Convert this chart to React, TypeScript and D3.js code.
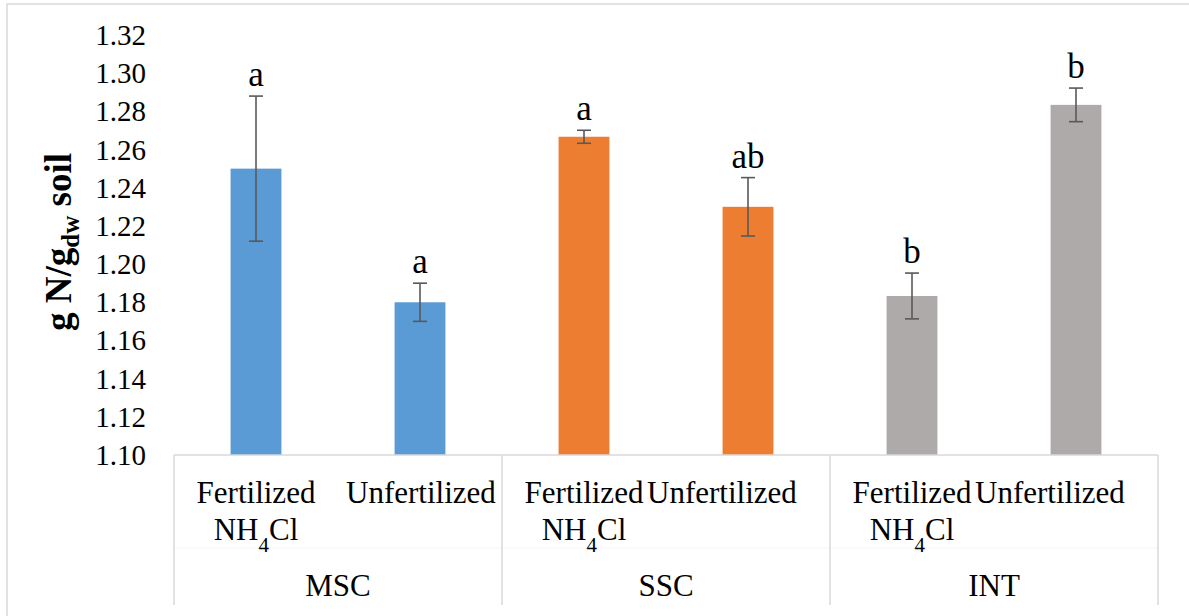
import React from "react";
import * as d3 from "d3";

// Soil nitrogen content by site and fertilization treatment
const sites = ["MSC", "SSC", "INT"];
const treatments = ["Fertilized", "Unfertilized"];
const means = [1.25, 1.18, 1.2667, 1.23, 1.1833, 1.2834];
const errors = [0.038, 0.01, 0.0034, 0.0153, 0.012, 0.0088];
const letters = ["a", "a", "a", "ab", "b", "b"];
const siteColors = ["#5B9BD5", "#ED7D31", "#AEAAAA"];
const yTicks = [1.1, 1.12, 1.14, 1.16, 1.18, 1.2, 1.22, 1.24, 1.26, 1.28, 1.3, 1.32];

const W = 1189;
const H = 616;
const plot = { left: 174, right: 1158, top: 35, bottom: 455 };
const serif = "'Liberation Serif', 'Times New Roman', serif";

export default function App() {
  const y = d3.scaleLinear().domain([1.1, 1.32]).range([plot.bottom, plot.top]);
  const keys = d3.range(means.length);
  const x = d3
    .scaleBand<number>()
    .domain(keys)
    .range([plot.left, plot.right])
    .paddingInner(0.69)
    .paddingOuter(0.345);
  const cat = d3.scaleBand<number>().domain(keys).range([plot.left, plot.right]);
  const group = d3.scaleBand<number>().domain(d3.range(sites.length)).range([plot.left, plot.right]);

  const axisGray = "#D9D9D9";
  const errColor = "#595959";
  const capHalf = 7;
  const labelFont = 31;
  const fertWidth = 122; // rendered width of the "Fertilized" line at labelFont

  return (
    <svg
      width={W}
      height={H}
      style={{ position: "absolute", left: 0, top: 0, background: "#fff", fontFamily: serif }}
    >
      <rect x={7} y={4} width={W} height={H} fill="#fff" stroke={axisGray} strokeWidth={1.5} />

      {/* y tick labels */}
      {yTicks.map((t) => (
        <text
          key={t}
          x={146}
          y={y(t)}
          textAnchor="end"
          dominantBaseline="central"
          fontSize={29}
          fill="#000"
        >
          {d3.format(".2f")(t)}
        </text>
      ))}

      {/* y axis title */}
      <text
        transform={`translate(71, 242) rotate(-90)`}
        textAnchor="middle"
        fontWeight="bold"
        fontSize={37}
        fill="#000"
      >
        g N/g
        <tspan fontSize={25} dy={8}>
          dw
        </tspan>
        <tspan dy={-8}> soil</tspan>
      </text>

      {/* bars */}
      {keys.map((i) => (
        <rect
          key={`bar-${i}`}
          x={x(i)}
          y={y(means[i])}
          width={x.bandwidth()}
          height={plot.bottom - y(means[i])}
          fill={siteColors[Math.floor(i / 2)]}
        />
      ))}

      {/* error bars */}
      {keys.map((i) => {
        const cx = x(i)! + x.bandwidth() / 2;
        const hi = y(means[i] + errors[i]);
        const lo = y(means[i] - errors[i]);
        return (
          <g key={`err-${i}`} stroke={errColor} strokeWidth={1.6}>
            <line x1={cx} x2={cx} y1={hi} y2={lo} />
            <line x1={cx - capHalf} x2={cx + capHalf} y1={hi} y2={hi} />
            <line x1={cx - capHalf} x2={cx + capHalf} y1={lo} y2={lo} />
          </g>
        );
      })}

      {/* significance letters */}
      {keys.map((i) => (
        <text
          key={`let-${i}`}
          x={x(i)! + x.bandwidth() / 2}
          y={y(means[i] + errors[i]) - 10}
          textAnchor="middle"
          fontSize={35}
          fill="#000"
        >
          {letters[i]}
        </text>
      ))}

      {/* multi-level category axis */}
      <line x1={plot.left} x2={plot.right} y1={plot.bottom} y2={plot.bottom} stroke={axisGray} strokeWidth={1.5} />
      <line x1={plot.left} x2={plot.right} y1={548} y2={548} stroke="#F4F4F4" strokeWidth={1} />
      {d3.range(sites.length + 1).map((g) => {
        const gx = g < sites.length ? group(g)! : plot.right;
        return (
          <line key={`div-${g}`} x1={gx} x2={gx} y1={plot.bottom} y2={605} stroke={axisGray} strokeWidth={1.5} />
        );
      })}

      {keys.map((i) => {
        const c = cat(i)! + cat.bandwidth() / 2;
        const t = i % 2;
        if (t === 0) {
          return (
            <g key={`cat-${i}`} fontSize={labelFont} fill="#000">
              <text x={c} y={503} textAnchor="middle">
                {treatments[0]}
              </text>
              <text x={c} y={540} textAnchor="middle">
                NH
                <tspan fontSize={21} dy={12}>
                  4
                </tspan>
                <tspan dy={-12}>Cl</tspan>
              </text>
            </g>
          );
        }
        const g = Math.floor(i / 2);
        const prevC = cat(i - 1)! + cat.bandwidth() / 2;
        const startX = g === 0 ? c - 74 : prevC + fertWidth / 2 + 2;
        return (
          <text key={`cat-${i}`} x={startX} y={503} fontSize={labelFont} fill="#000">
            {treatments[1]}
          </text>
        );
      })}

      {sites.map((s, g) => (
        <text
          key={s}
          x={group(g)! + group.bandwidth() / 2}
          y={596}
          textAnchor="middle"
          fontSize={labelFont}
          fill="#000"
        >
          {s}
        </text>
      ))}
    </svg>
  );
}
